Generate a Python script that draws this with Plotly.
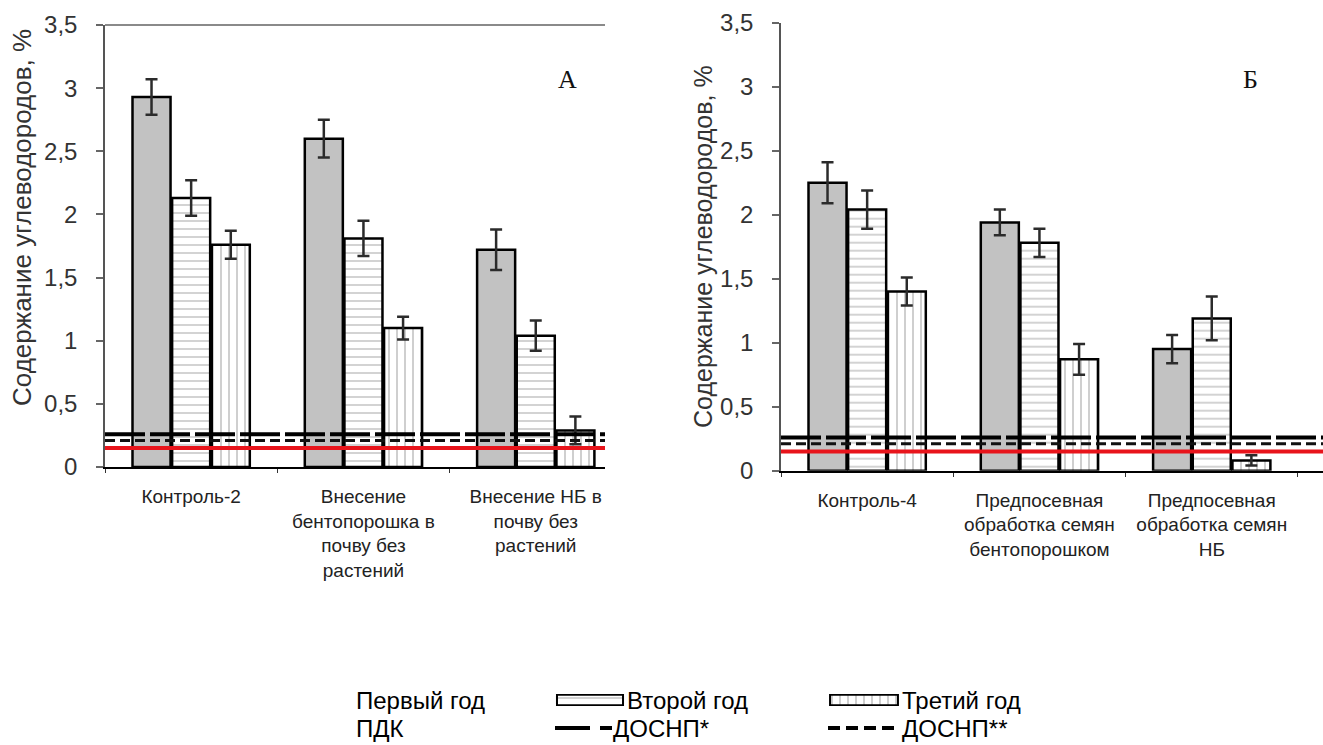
import plotly.graph_objects as go

W, H = 1323, 745

# ---------------- data ----------------
years = ["Первый год", "Второй год", "Третий год"]

cats_a = ["Контроль-2",
          "Внесение<br>бентопорошка в<br>почву без<br>растений",
          "Внесение НБ в<br>почву без<br>растений"]
cats_b = ["Контроль-4",
          "Предпосевная<br>обработка семян<br>бентопорошком",
          "Предпосевная<br>обработка семян<br>НБ"]

a_first = [2.93, 2.60, 1.72]
a_second = [2.13, 1.81, 1.04]
a_third = [1.76, 1.10, 0.29]
a_first_err = [0.14, 0.15, 0.16]
a_second_err = [0.14, 0.14, 0.12]
a_third_err = [0.11, 0.09, 0.11]

b_first = [2.25, 1.94, 0.95]
b_second = [2.04, 1.78, 1.19]
b_third = [1.40, 0.87, 0.08]
b_first_err = [0.16, 0.10, 0.11]
b_second_err = [0.15, 0.11, 0.17]
b_third_err = [0.11, 0.12, 0.04]

pdk_level = 0.15        # ПДК
dosnp1_level = 0.26     # ДОСНП*
dosnp2_level = 0.21     # ДОСНП**

y_tickvals = [0, 0.5, 1, 1.5, 2, 2.5, 3, 3.5]
y_ticktext = ["0", "0,5", "1", "1,5", "2", "2,5", "3", "3,5"]

y_title = "Содержание углеводородов, %"
panel_labels = ["А", "Б"]
ref_names = ["ПДК", "ДОСНП*", "ДОСНП**"]

# ---------------- styles ----------------
FONT = "Liberation Sans, Arial, sans-serif"
GRAY = "#c2c2c2"
styles = [
    dict(color=GRAY, pattern=None),
    dict(color="white", pattern=dict(shape="-", fgcolor="#9a9a9a", bgcolor="white", size=8, solidity=0.22)),
    dict(color="white", pattern=dict(shape="|", fgcolor="#333333", bgcolor="white", size=8, solidity=0.12)),
]

ROW1, ROW2 = 700, 728


def px_x(p):
    return min(1.0, max(0.0, p / W))


def px_y(p):
    return min(1.0, max(0.0, 1 - p / H))


fig = go.Figure()

panels = [
    ("x", "y", cats_a, [a_first, a_second, a_third], [a_first_err, a_second_err, a_third_err]),
    ("x2", "y2", cats_b, [b_first, b_second, b_third], [b_first_err, b_second_err, b_third_err]),
]

for xa, ya, cats, vals, errs in panels:
    for i in range(3):
        st = styles[i]
        marker = dict(color=st["color"], line=dict(color="black", width=2.5))
        if st["pattern"]:
            marker["pattern"] = st["pattern"]
        fig.add_trace(go.Bar(
            x=cats, y=vals[i], name=years[i], xaxis=xa, yaxis=ya,
            marker=marker, showlegend=False,
            error_y=dict(type="data", array=errs[i], visible=True,
                         color="#2b2b2b", thickness=2.5, width=6),
        ))

# legend swatches for the patterned series (tiny hidden axes)
for idx, (xa, ya) in enumerate([("x3", "y3"), ("x4", "y4")]):
    st = styles[idx + 1]
    fig.add_trace(go.Bar(
        x=[0], y=[1], width=[1], xaxis=xa, yaxis=ya, showlegend=False,
        marker=dict(color=st["color"], pattern=st["pattern"],
                    line=dict(color="black", width=2)),
        hoverinfo="skip",
    ))

# ---------------- axes ----------------
ya_dom = [px_y(467), px_y(25)]
yb_dom = [px_y(470.7), px_y(22.7)]
xa_dom = [px_x(105), px_x(605)]
xb_dom = [px_x(781), 1.0]
cat_px = 172.3
xb_len = W - 781

common_x = dict(type="category", tickson="boundaries", ticks="outside", ticklen=4,
                tickcolor="#333", showline=True, linecolor="black", linewidth=2,
                showgrid=False, tickfont=dict(family=FONT, size=19, color="#222"),
                ticklabelstandoff=11, zeroline=False, automargin=False)
common_y = dict(range=[0, 3.5], tickvals=y_tickvals, ticktext=y_ticktext,
                ticks="outside", ticklen=7, tickcolor="#666", tickwidth=1.5,
                showline=True, linecolor="#555", linewidth=1.5, showgrid=False,
                zeroline=False, tickfont=dict(family=FONT, size=24, color="#333"),
                ticklabelstandoff=14, automargin=False)
hidden = dict(visible=False, automargin=False, fixedrange=True)

fig.update_layout(
    xaxis=dict(domain=xa_dom, anchor="y", range=[-0.5, -0.5 + 500 / cat_px], **common_x),
    yaxis=dict(domain=ya_dom, anchor="x", **common_y),
    xaxis2=dict(domain=xb_dom, anchor="y2", range=[-0.5, -0.5 + xb_len / cat_px], **common_x),
    yaxis2=dict(domain=yb_dom, anchor="x2", **common_y),
    xaxis3=dict(domain=[px_x(555), px_x(625)], anchor="y3", range=[-0.53, 0.53], **hidden),
    yaxis3=dict(domain=[px_y(ROW1 + 6), px_y(ROW1 - 6)], anchor="x3", range=[-0.08, 1.08], **hidden),
    xaxis4=dict(domain=[px_x(828), px_x(900)], anchor="y4", range=[-0.53, 0.53], **hidden),
    yaxis4=dict(domain=[px_y(ROW1 + 6), px_y(ROW1 - 6)], anchor="x4", range=[-0.08, 1.08], **hidden),
)

# ---------------- reference lines ----------------
shapes = []
# grey top border of panel A
shapes.append(dict(type="line", xref="x domain", yref="y domain", x0=0, x1=1, y0=1, y1=1,
                   line=dict(color="#8a8a8a", width=2)))
for xr, yr in [("x domain", "y"), ("x2 domain", "y2")]:
    shapes.append(dict(type="line", xref=xr, yref=yr, x0=0, x1=1, y0=dosnp1_level, y1=dosnp1_level,
                       line=dict(color="black", width=4, dash="40px,5px"), layer="above"))
    shapes.append(dict(type="line", xref=xr, yref=yr, x0=0, x1=1, y0=dosnp2_level, y1=dosnp2_level,
                       line=dict(color="#111", width=3, dash="10px,5px"), layer="above"))
    shapes.append(dict(type="line", xref=xr, yref=yr, x0=0, x1=1, y0=pdk_level, y1=pdk_level,
                       line=dict(color="#e8141b", width=4), layer="above"))

# legend line symbols
shapes.append(dict(type="line", xref="paper", yref="paper", x0=px_x(555), x1=px_x(612),
                   y0=px_y(ROW2), y1=px_y(ROW2), line=dict(color="black", width=4, dash="35px,10px")))
shapes.append(dict(type="line", xref="paper", yref="paper", x0=px_x(828), x1=px_x(900),
                   y0=px_y(ROW2), y1=px_y(ROW2), line=dict(color="black", width=4, dash="12px,6px")))

# ---------------- annotations ----------------
ann = []
ann.append(dict(text=y_title, x=px_x(22), y=px_y(218), xref="paper", yref="paper",
                textangle=-90, showarrow=False, font=dict(family=FONT, size=26, color="#333"),
                xanchor="center", yanchor="middle"))
ann.append(dict(text=y_title, x=px_x(703), y=px_y(247), xref="paper", yref="paper",
                textangle=-90, showarrow=False, font=dict(family=FONT, size=25, color="#333"),
                xanchor="center", yanchor="middle"))
serif = "Liberation Serif, Times New Roman, serif"
ann.append(dict(text=panel_labels[0], x=px_x(567), y=px_y(80), xref="paper", yref="paper",
                showarrow=False, font=dict(family=serif, size=26, color="#111"),
                xanchor="center", yanchor="middle"))
ann.append(dict(text=panel_labels[1], x=px_x(1250), y=px_y(80), xref="paper", yref="paper",
                showarrow=False, font=dict(family=serif, size=26, color="#111"),
                xanchor="center", yanchor="middle"))

leg_font = dict(family=FONT, size=24, color="black")
legend_items = [
    (years[0], 355, ROW1), (years[1], 626, ROW1), (years[2], 901, ROW1),
    (ref_names[0], 355, ROW2), (ref_names[1], 612, ROW2), (ref_names[2], 901, ROW2),
]
for txt, lx, ly in legend_items:
    ann.append(dict(text=txt, x=px_x(lx), y=px_y(ly), xref="paper", yref="paper",
                    showarrow=False, font=leg_font, xanchor="left", yanchor="middle",
                    borderpad=0))

fig.update_layout(
    width=W, height=H,
    margin=dict(l=0, r=0, t=0, b=0, pad=0, autoexpand=False),
    paper_bgcolor="white", plot_bgcolor="white",
    barmode="group", bargap=0.31, bargroupgap=0.04,
    shapes=shapes, annotations=ann,
    showlegend=False,
    font=dict(family=FONT),
)

fig.write_html("out.html", config={"displayModeBar": False},
               post_script="document.body.style.margin='0';document.body.style.overflow='hidden';")
